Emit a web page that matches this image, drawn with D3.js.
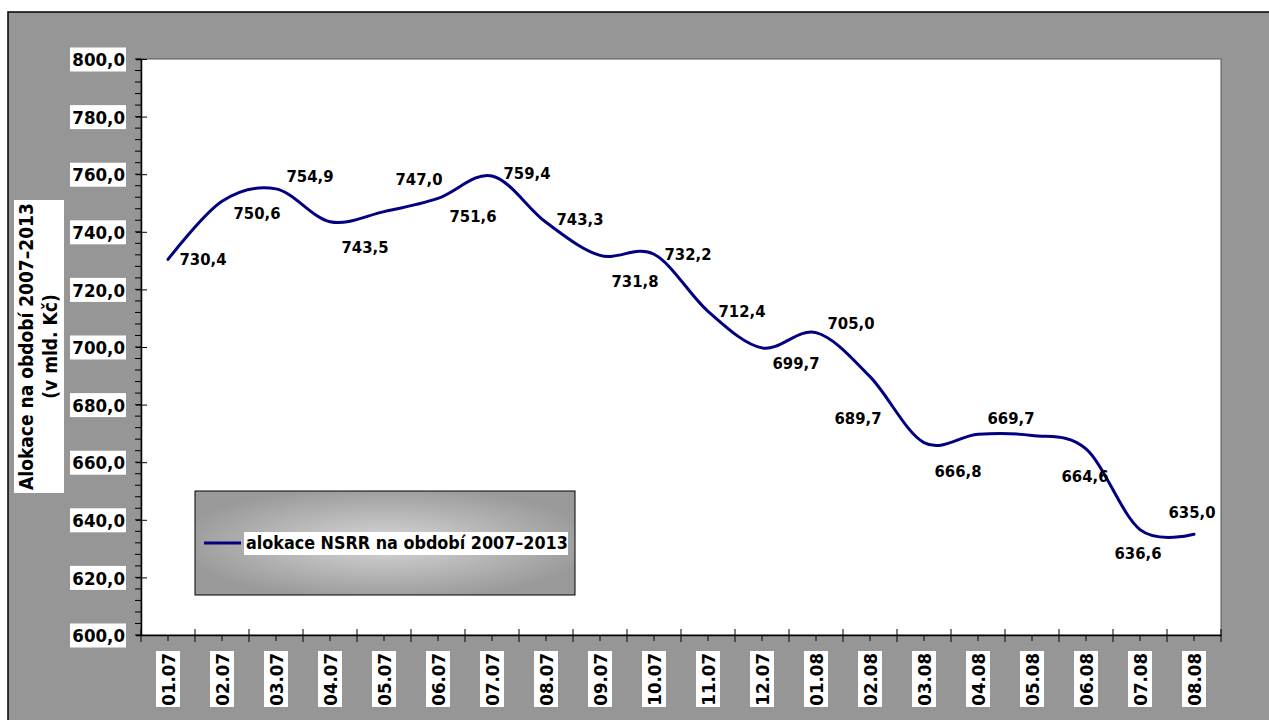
<!DOCTYPE html>
<html><head><meta charset="utf-8">
<script src="https://cdn.jsdelivr.net/npm/d3@7"></script>
<style>
html,body{margin:0;padding:0;background:#fff;}
svg{display:block;}
text{font-family:"DejaVu Sans Condensed","DejaVu Sans",sans-serif;font-weight:bold;font-stretch:condensed;fill:#000;}
</style></head>
<body>
<svg id="chart" width="1269" height="720"></svg>
<script>
const categories = ["01.07","02.07","03.07","04.07","05.07","06.07","07.07","08.07","09.07","10.07","11.07","12.07",
                    "01.08","02.08","03.08","04.08","05.08","06.08","07.08","08.08"];
const values = [730.4,750.6,754.9,743.5,747.0,751.6,759.4,743.3,731.8,732.2,712.4,699.7,
                705.0,689.7,666.8,669.7,669.3,664.6,636.6,635.0];
const showLabel = [1,1,1,1,1,1,1,1,1,1,1,1,1,1,1,1,0,1,1,1];
const yTicks = [600,620,640,660,680,700,720,740,760,780,800];
const seriesName = "alokace NSRR na období 2007–2013";
const yTitle = ["Alokace na období 2007–2013", "(v mld. Kč)"];
// label placement offsets (dx, dy) of label centre from the point
const labelOffsets = [[35,0],[35,12],[34,-13],[35,25],[35,-33],[35,18],[35,-3],[34,-3],[35,26],[34,0],
                      [34,0],[34,15],[35,-10],[-12,41],[34,28],[33,-16],[0,0],[-1,27],[-2,23],[-2,-22]];

const fmt = v => d3.format(".1f")(v).replace(".", ",");
const svg = d3.select("#chart");

const PL = 141, PR = 1221, PT = 59, PB = 635;
const x = d3.scaleBand().domain(categories).range([PL, PR]).padding(0);
const y = d3.scaleLinear().domain([600, 800]).range([PB, PT]);

// defs: legend gradient
const defs = svg.append("defs");
const rg = defs.append("radialGradient").attr("id","lg").attr("cx","50%").attr("cy","50%").attr("r","55%");
rg.append("stop").attr("offset","0%").attr("stop-color","#d6d6d6");
rg.append("stop").attr("offset","100%").attr("stop-color","#9a9a9a");

// chart area
svg.append("rect").attr("x",8).attr("y",12).attr("width",1275).attr("height",720)
  .attr("fill","#969696").attr("stroke","#000").attr("stroke-width",1.5);

// plot area
svg.append("rect").attr("x",PL).attr("y",PT).attr("width",PR-PL).attr("height",PB-PT)
  .attr("fill","#fff").attr("stroke","#555").attr("stroke-width",1);

// Y axis
const minorY = d3.range(600, 800.01, 4);
svg.append("g").selectAll("line").data(minorY).join("line")
  .attr("x1", PL-6).attr("x2", PL).attr("y1", d=>y(d)).attr("y2", d=>y(d))
  .attr("stroke","#000").attr("stroke-width",1);
const yAxis = svg.append("g").attr("transform",`translate(${PL},0)`)
  .call(d3.axisLeft(y).tickValues(yTicks).tickFormat(fmt).tickSize(5).tickPadding(16));
yAxis.select(".domain").attr("stroke","#000").attr("stroke-width",1.5);
yAxis.selectAll(".tick line").attr("x1",6).attr("x2",-5).attr("stroke","#000");
yAxis.selectAll(".tick text").attr("font-size",18.5).attr("font-family",null).attr("x",-16).attr("dy","0.36em");
yAxis.selectAll(".tick").each(function(){
  const g = d3.select(this);
  g.insert("rect","text").attr("x",-71).attr("y",-12).attr("width",56).attr("height",24).attr("fill","#fff");
});

// X axis
svg.append("g").selectAll("line").data(categories).join("line")
  .attr("x1", d=>x(d)+x.bandwidth()/2).attr("x2", d=>x(d)+x.bandwidth()/2)
  .attr("y1", PB).attr("y2", PB+6).attr("stroke","#000");
const boundaries = categories.map(c => x(c)).concat([PR]);
svg.append("g").selectAll("line").data(boundaries).join("line")
  .attr("x1", d=>d).attr("x2", d=>d).attr("y1", PB-6).attr("y2", PB+7)
  .attr("stroke","#000").attr("stroke-width",1);
const xAxis = svg.append("g").attr("transform",`translate(0,${PB})`)
  .call(d3.axisBottom(x).tickSize(0).tickPadding(0));
xAxis.select(".domain").attr("stroke","#000").attr("stroke-width",1.5);
xAxis.selectAll(".tick").each(function(){
  const g = d3.select(this);
  g.select("text").remove();
  const d = g.datum();
  g.append("rect").attr("x",-12).attr("y",16).attr("width",24).attr("height",56).attr("fill","#fff");
  g.append("text").attr("transform","translate(0,18) rotate(-90)")
    .attr("text-anchor","end").attr("dy","0.36em").attr("font-size",18.5).text(d);
});

// Series line
const line = d3.line().x((d,i)=>x(categories[i])+x.bandwidth()/2).y(d=>y(d)).curve(d3.curveCatmullRom.alpha(0));
svg.append("path").datum(values).attr("d", line)
  .attr("fill","none").attr("stroke","#000080").attr("stroke-width",3).attr("stroke-linecap","round");

// Data labels
svg.append("g").selectAll("text").data(values.map((v,i)=>({v,i}))).join("text")
  .filter(d=>showLabel[d.i])
  .attr("x", d=>x(categories[d.i])+x.bandwidth()/2+labelOffsets[d.i][0])
  .attr("y", d=>y(d.v)+labelOffsets[d.i][1])
  .attr("text-anchor","middle").attr("dy","0.36em").attr("font-size",16.5)
  .text(d=>fmt(d.v));

// Y title
const tg = svg.append("g");
tg.append("rect").attr("x",14).attr("y",200).attr("width",50).attr("height",293).attr("fill","#fff");
const tt = tg.append("text").attr("transform","translate(33,346.5) rotate(-90)").attr("text-anchor","middle").attr("font-size",19);
tt.append("tspan").attr("x",0).attr("dy",0).text(yTitle[0]);
tt.append("tspan").attr("x",0).attr("dy",24).text(yTitle[1]);

// Legend
const lg = svg.append("g");
lg.append("rect").attr("x",195).attr("y",491).attr("width",380).attr("height",104)
  .attr("fill","url(#lg)").attr("stroke","#000").attr("stroke-width",1);
lg.append("line").attr("x1",204).attr("x2",241).attr("y1",543).attr("y2",543)
  .attr("stroke","#000080").attr("stroke-width",3);
lg.append("rect").attr("x",244).attr("y",532).attr("width",324).attr("height",23).attr("fill","#fff");
lg.append("text").attr("x",246).attr("y",543).attr("dy","0.36em").attr("font-size",17.8).text(seriesName);
</script>
</body></html>
